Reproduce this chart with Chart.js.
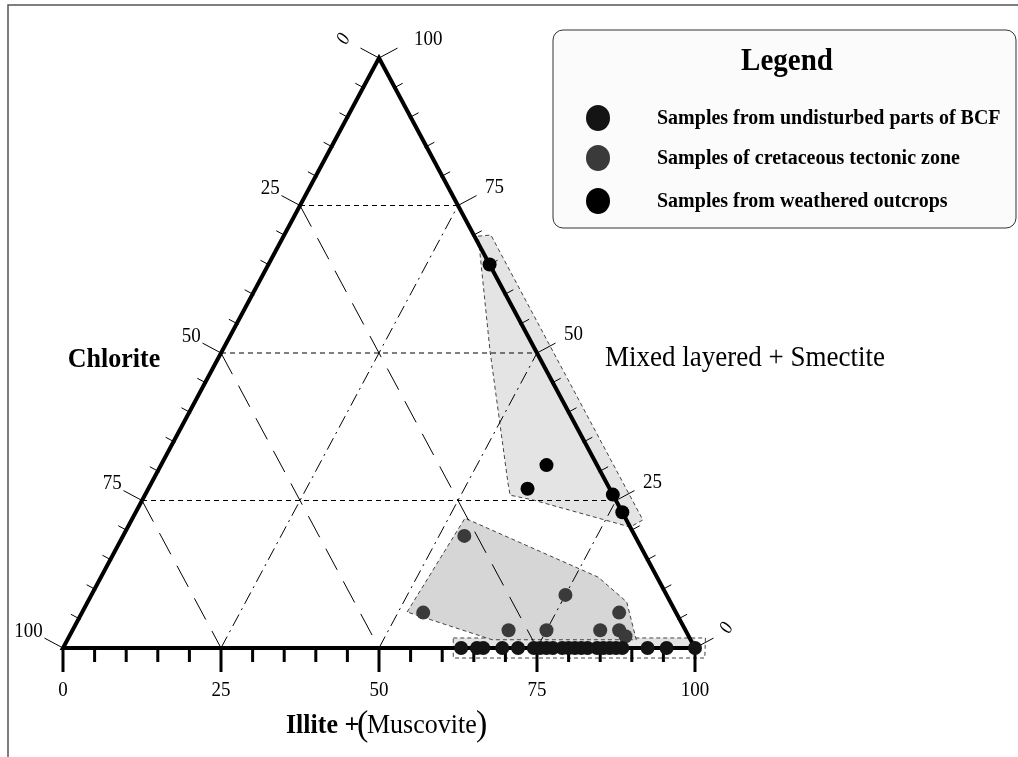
<!DOCTYPE html>
<html>
<head>
<meta charset="utf-8">
<script src="https://cdn.jsdelivr.net/npm/chart.js@4.4.1/dist/chart.umd.min.js"></script>
<style>
  html, body { margin: 0; padding: 0; background: #fff; }
  canvas { display: block; }
</style>
</head>
<body>
<canvas id="clayChart" width="1018" height="757"></canvas>
<script>
// Sample compositions as [Illite + Muscovite %, Mixed layered + Smectite %]; Chlorite is the rest
const undisturbedBCF = [
    [63, 0], [65.5, 0], [66.5, 0], [69.5, 0], [72, 0], [74.5, 0], [75.5, 0], [76.5, 0],
    [77.5, 0], [79, 0], [80, 0], [81, 0], [82, 0], [83, 0], [84.5, 0], [85.5, 0],
    [86.5, 0], [87.5, 0], [88.5, 0], [92.5, 0], [95.5, 0], [100, 0]
];
const cretaceousZone = [
    [54, 19], [54, 6], [75, 9], [85, 6], [69, 3], [75, 3], [83.5, 3], [86.5, 3], [88, 2]
];
const weatheredOutcrops = [
    [35, 65], [61, 31], [60, 27], [74, 26], [77, 23]
];

// Outlines of the shaded fields, same [illite, mixed layered] coordinates
const fieldWeathered = [
    [30.8, 69.8], [32.7, 70], [80.9, 21.7], [79.5, 20.5], [61.8, 25.1], [57.8, 25.9], [56.4, 28], [42.3, 50.5]
];
const fieldCretaceous = [
    [51.4, 6.1], [52.6, 22], [78.7, 12], [85.3, 7.8], [90, 1.4], [67.2, 1.4]
];
const fieldUndisturbed = [
    [60.9, 1.7], [100.8, 1.7], [102.4, -1.7], [62.6, -1.7]
];

const seriesNames = [
    'Samples from undisturbed parts of BCF',
    'Samples of cretaceous tectonic zone',
    'Samples from weathered outcrops'
];
const seriesColors = ['#141414', '#3a3a3a', '#000000'];

const gridLevels = [25, 50, 75];
const majorTicks = [0, 25, 50, 75, 100];
const chloriteLabels = ['0', '25', '50', '75', '100'];
const mixedLabels = ['0', '25', '50', '75', '100'];
const illiteLabels = ['0', '25', '50', '75', '100'];

const SERIF = "'Liberation Serif', 'Times New Roman', serif";
const STRETCH = 1.08;

// ternary [illite, mixed] -> cartesian point of the chart plane
const plane = ([il, ml]) => ({ x: il + ml / 2, y: ml });
const closed = pts => [...pts, pts[0]].map(plane);

const fieldDataset = (pts, color) => ({
    data: closed(pts),
    showLine: true,
    fill: 'shape',
    backgroundColor: color,
    borderColor: '#444',
    borderWidth: 1,
    borderDash: [4, 3],
    pointRadius: 0,
    clip: false,
    order: 10
});

const gridDataset = (from, to, dash) => ({
    data: [plane(from), plane(to)],
    showLine: true,
    borderColor: '#000',
    borderWidth: 1,
    borderDash: dash,
    pointRadius: 0,
    clip: false,
    order: 5
});

const sampleDataset = (pts, i) => ({
    label: seriesNames[i],
    data: pts.map(plane),
    backgroundColor: seriesColors[i],
    borderColor: seriesColors[i],
    borderWidth: 0,
    pointRadius: 7,
    clip: false,
    order: 1
});

const datasets = [
    fieldDataset(fieldWeathered, '#e4e4e4'),
    fieldDataset(fieldCretaceous, '#d6d6d6'),
    fieldDataset(fieldUndisturbed, '#e4e4e4')
];
gridLevels.forEach(v => {
    datasets.push(gridDataset([0, v], [100 - v, v], [5, 4]));          // constant mixed layered
    datasets.push(gridDataset([0, 100 - v], [100 - v, 0], [24, 13]));  // constant chlorite
    datasets.push(gridDataset([v, 0], [v, 100 - v], [13, 5, 2, 5]));  // constant illite
});
datasets.push({
    role: 'frame',
    data: [[0, 0], [100, 0], [0, 100], [0, 0], [100, 0]].map(plane),
    showLine: true,
    borderColor: '#000',
    borderWidth: 4,
    borderJoinStyle: 'miter',
    pointRadius: 0,
    clip: false,
    order: 4
});
datasets.push(sampleDataset(undisturbedBCF, 0));
datasets.push(sampleDataset(cretaceousZone, 1));
datasets.push(sampleDataset(weatheredOutcrops, 2));

const drawText = (ctx, text, x, y, font, align, baseline) => {
    ctx.save();
    ctx.font = font;
    ctx.textAlign = align;
    ctx.textBaseline = baseline;
    ctx.fillStyle = '#000';
    ctx.translate(x, y);
    ctx.scale(1, STRETCH);
    ctx.fillText(text, 0, 0);
    ctx.restore();
};

const ternaryAxes = {
    id: 'ternaryAxes',
    beforeDraw(chart) {
        const ctx = chart.ctx;
        ctx.save();
        ctx.fillStyle = '#fff';
        ctx.fillRect(0, 0, chart.width, chart.height);
        ctx.strokeStyle = '#555';
        ctx.lineWidth = 1.5;
        ctx.beginPath();
        ctx.moveTo(8, chart.height);
        ctx.lineTo(8, 5);
        ctx.lineTo(chart.width, 5);
        ctx.stroke();
        ctx.restore();
    },
    afterDatasetDraw(chart, args) {
        if (chart.data.datasets[args.index].role !== 'frame') return;
        const ctx = chart.ctx;
        const xs = chart.scales.x, ys = chart.scales.y;
        const pt = (il, ml) => {
            const p = plane([il, ml]);
            return [xs.getPixelForValue(p.x), ys.getPixelForValue(p.y)];
        };
        const unit = (a, b) => {
            const dx = b[0] - a[0], dy = b[1] - a[1], l = Math.hypot(dx, dy);
            return [dx / l, dy / l];
        };
        const bl = pt(0, 0), br = pt(100, 0), ap = pt(0, 100);
        const dL = unit(bl, ap), dR = unit(br, ap);
        const nL = [dL[1], -dL[0]];
        const nR = [-dR[1], dR[0]];

        const seg = (p, n, a, b, w) => {
            ctx.lineWidth = w;
            ctx.beginPath();
            ctx.moveTo(p[0] + n[0] * a, p[1] + n[1] * a);
            ctx.lineTo(p[0] + n[0] * b, p[1] + n[1] * b);
            ctx.stroke();
        };

        ctx.save();
        ctx.strokeStyle = '#000';
        ctx.lineCap = 'butt';
        for (let v = 0; v <= 100; v += 5) {
            const major = v % 25 === 0;
            // chlorite along the left side, mixed layered along the right side
            seg(pt(0, 100 - v), nL, major ? 0 : -2, major ? 21 : 9, 1);
            seg(pt(100 - v, v), nR, major ? 0 : -2, major ? 21 : 9, 1);
            const b = pt(v, 0);
            seg(b, [0, 1], 0, major ? 24 : 14, 3);
        }
        ctx.restore();

        const tickFont = `19px ${SERIF}`;
        const rotatedZero = (x, y) => {
            ctx.save();
            ctx.translate(x, y);
            ctx.rotate(-62 * Math.PI / 180);
            drawText(ctx, '0', 0, 0, `italic 18px ${SERIF}`, 'center', 'middle');
            ctx.restore();
        };
        majorTicks.forEach((v, i) => {
            const l = pt(0, 100 - v);
            if (v === 0) rotatedZero(l[0] + nL[0] * 40, l[1] + nL[1] * 40);
            else drawText(ctx, chloriteLabels[i], l[0] + nL[0] * 23, l[1] + nL[1] * 23 - 6, tickFont, 'right', 'middle');

            const r = pt(100 - v, v);
            const gap = v === 100 ? 12 : 4;
            if (v === 0) rotatedZero(r[0] + nR[0] * 36, r[1] + nR[1] * 36 - 3);
            else drawText(ctx, mixedLabels[i], r[0] + nR[0] * 26 + gap, r[1] + nR[1] * 26 - 6, tickFont, 'left', 'middle');

            const b = pt(v, 0);
            drawText(ctx, illiteLabels[i], b[0], b[1] + 43, tickFont, 'center', 'middle');
        });
    },
    afterDraw(chart) {
        const ctx = chart.ctx;

        // corner titles
        drawText(ctx, 'Chlorite', 114, 367, `bold 26px ${SERIF}`, 'center', 'alphabetic');
        drawText(ctx, 'Mixed layered + Smectite', 605, 366, `27px ${SERIF}`, 'left', 'alphabetic');
        drawText(ctx, 'Illite +', 286, 733, `bold 26px ${SERIF}`, 'left', 'alphabetic');
        drawText(ctx, '(', 357, 735, `34px ${SERIF}`, 'left', 'alphabetic');
        drawText(ctx, 'Muscovite', 367, 733, `26px ${SERIF}`, 'left', 'alphabetic');
        drawText(ctx, ')', 476, 735, `34px ${SERIF}`, 'left', 'alphabetic');

        // legend box
        const bx = 553, by = 30, bw = 463, bh = 198, r = 10;
        ctx.save();
        ctx.beginPath();
        ctx.roundRect(bx, by, bw, bh, r);
        ctx.fillStyle = '#fbfbfb';
        ctx.fill();
        ctx.strokeStyle = '#333';
        ctx.lineWidth = 1;
        ctx.stroke();
        ctx.restore();

        drawText(ctx, 'Legend', 787, 62, `bold 29px ${SERIF}`, 'center', 'middle');
        const rowY = [118, 158, 201];
        seriesNames.forEach((name, i) => {
            ctx.save();
            ctx.fillStyle = seriesColors[i];
            ctx.beginPath();
            ctx.ellipse(598, rowY[i], 12, 13, 0, 0, Math.PI * 2);
            ctx.fill();
            ctx.restore();
            drawText(ctx, name, 657, rowY[i], `bold 20px ${SERIF}`, 'left', 'middle');
        });
    }
};

new Chart(document.getElementById('clayChart'), {
    type: 'scatter',
    data: { datasets: datasets },
    options: {
        responsive: false,
        animation: false,
        events: [],
        layout: { padding: { left: 63, right: 323, top: 58, bottom: 109 } },
        scales: {
            x: { type: 'linear', min: 0, max: 100, display: false },
            y: { type: 'linear', min: 0, max: 100, display: false }
        },
        plugins: {
            legend: { display: false },
            tooltip: { enabled: false }
        }
    },
    plugins: [ternaryAxes]
});
</script>
</body>
</html>
